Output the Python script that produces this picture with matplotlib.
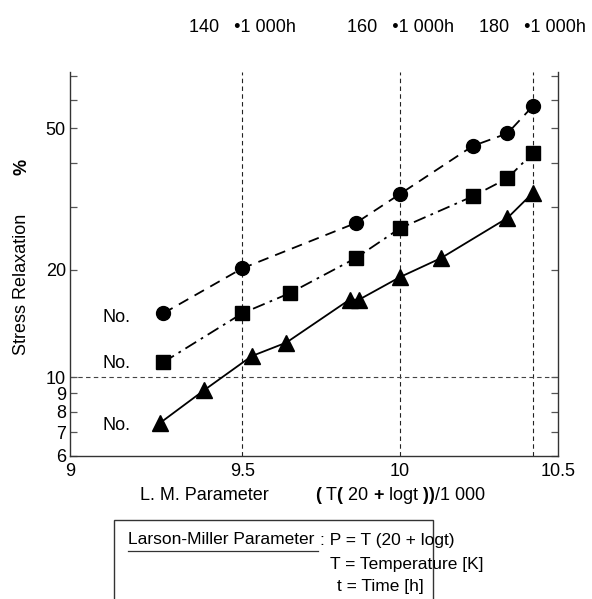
import numpy as np
import matplotlib.pyplot as plt
from matplotlib.ticker import FixedLocator, FixedFormatter
from matplotlib.transforms import blended_transform_factory

plt.rcParams['font.family'] = ['Liberation Sans', 'DejaVu Sans']
plt.rcParams['mathtext.fontset'] = 'custom'
plt.rcParams['mathtext.bf'] = 'Liberation Sans:bold'
plt.rcParams['mathtext.rm'] = 'Liberation Sans'

# data (L.M. parameter, stress relaxation %)
circ_x = [9.25, 9.50, 9.86, 10.00, 10.23, 10.34, 10.42]
circ_y = [15.1, 20.2, 27.1, 32.7, 44.6, 48.4, 57.7]
sq_x = [9.25, 9.50, 9.65, 9.86, 10.00, 10.23, 10.34, 10.42]
sq_y = [11.0, 15.1, 17.2, 21.6, 26.2, 32.2, 36.2, 42.6]
tri_x = [9.24, 9.38, 9.53, 9.64, 9.84, 9.87, 10.00, 10.13, 10.34, 10.42]
tri_y = [7.43, 9.19, 11.45, 12.5, 16.5, 16.5, 19.1, 21.6, 28.0, 32.9]

ref_x = [9.5, 10.0, 10.42]
ref_labels = ['140   \u20221 000h', '160   \u20221 000h', '180   \u20221 000h']
ref_y = 10

fs = 13
fig = plt.figure(figsize=(5.92, 5.99), dpi=100)
ax = fig.add_axes([70/592, 1-456/599, (558-70)/592, (456-72)/599])

ax.plot(circ_x, circ_y, color='black', lw=1.3, ls=(0, (6, 4)), marker='o', ms=10)
ax.plot(sq_x, sq_y, color='black', lw=1.3, ls=(0, (7, 3, 1.5, 3)), marker='s', ms=10.5)
ax.plot(tri_x, tri_y, color='black', lw=1.3, ls='-', marker='^', ms=12)

for v in ref_x:
    ax.axvline(v, color='#222222', lw=0.8, ls=(0, (4, 3)), zorder=0)
ax.axhline(ref_y, color='#444444', lw=0.8, ls=(0, (4, 3)), zorder=0)

ax.set_yscale('log')
ax.set_ylim(6, 72)
ax.set_xlim(8.955, 10.5)
ax.set_xticks([8.955, 9.5, 10, 10.5])
ax.set_xticklabels(['9', '9.5', '10', '10.5'], fontsize=fs)
ax.tick_params(axis='x', length=0, pad=5)

ax.yaxis.set_major_locator(FixedLocator([10, 20, 50]))
ax.yaxis.set_major_formatter(FixedFormatter(['10', '20', '50']))
ax.yaxis.set_minor_locator(FixedLocator([6, 7, 8, 9, 30, 40, 60, 70]))
ax.yaxis.set_minor_formatter(FixedFormatter(['6', '7', '8', '9', '', '', '', '']))
ax.tick_params(axis='y', which='both', direction='in', length=5, width=0.9,
               color='#555555', right=True, labelsize=fs, pad=3)
ax.spines['top'].set_visible(False)
for s in ['left', 'right', 'bottom']:
    ax.spines[s].set_linewidth(1.0)
    ax.spines[s].set_color('#333333')

top_tr = blended_transform_factory(ax.transData, fig.transFigure)
for v, t in zip(ref_x, ref_labels):
    ax.text(v, 1-27/599, t, transform=top_tr, ha='center', va='center', fontsize=fs)

# "No." series labels
for yy in [318, 363, 426]:
    fig.text(103/592, 1-yy/599, 'No.', ha='left', va='center', fontsize=fs)

fig.text(22/592, 1-284/599, 'Stress Relaxation', rotation=90, ha='center', va='center', fontsize=fs)
fig.text(22/592, 1-167/599, '%', rotation=90, ha='center', va='center', fontsize=fs, fontweight='bold')

fig.text(140/592, 1-495/599, 'L. M. Parameter', ha='left', va='center', fontsize=fs)
fig.text(315/592, 1-495/599, r'${\mathbf{(}}$ T${\mathbf{(}}$ 20 ${\mathbf{+}}$ logt ${\mathbf{))}}$/1 000',
         ha='left', va='center', fontsize=fs)

# parameter box
bfs = 12.5
box = plt.Rectangle((114/592, -0.01), (433-114)/592, (1-520/599)+0.01, transform=fig.transFigure,
                    fill=False, lw=1.0, ec='#333333')
fig.patches.append(box)
fig.text(128/592, 1-540/599, 'Larson-Miller Parameter', ha='left', va='center', fontsize=bfs)
fig.add_artist(plt.Line2D([128/592, 318/592], [1-551/599, 1-551/599], color='#333333', lw=0.9))
fig.text(320/592, 1-540/599, ': P = T (20 + logt)', ha='left', va='center', fontsize=bfs)
fig.text(330/592, 1-564/599, 'T = Temperature [K]', ha='left', va='center', fontsize=bfs)
fig.text(337/592, 1-587/599, 't = Time [h]', ha='left', va='center', fontsize=bfs)

fig.savefig('out.png', dpi=100)
